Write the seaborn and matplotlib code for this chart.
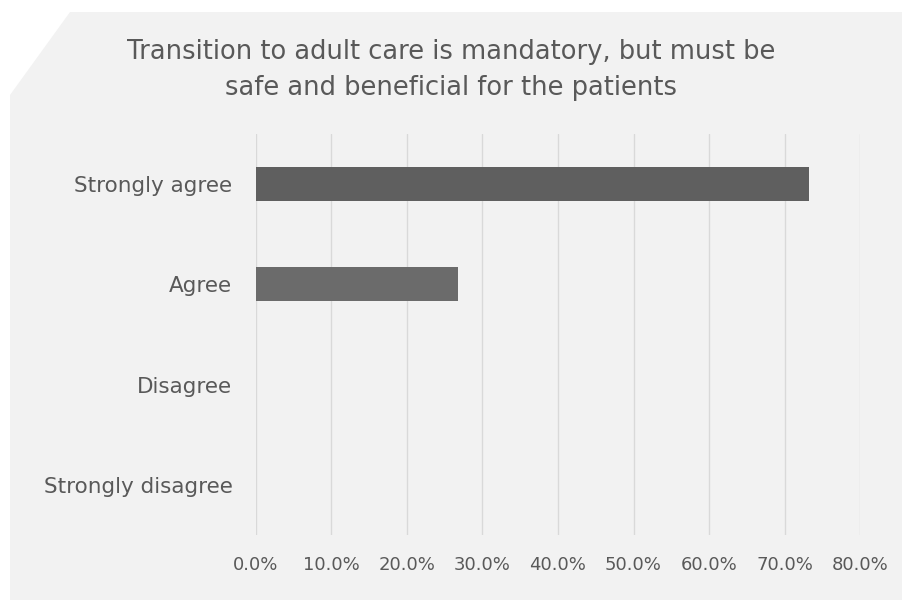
import matplotlib
matplotlib.use("Agg")
import matplotlib.pyplot as plt
from matplotlib.patches import Polygon
from matplotlib.ticker import FuncFormatter
import seaborn as sns
import pandas as pd

# data
answers = ["Strongly agree", "Agree", "Disagree", "Strongly disagree"]
shares = [0.733, 0.267, 0.0, 0.0]
bar_colors = ["#5f5f5f", "#6b6b6b", "#6b6b6b", "#6b6b6b"]
title = "Transition to adult care is mandatory, but must be\nsafe and beneficial for the patients"

df = pd.DataFrame({"answer": answers, "share": shares})

sns.set_theme(style="white")
plt.rcParams["font.family"] = ["DejaVu Sans"]

fig = plt.figure(figsize=(9.03, 6.03), dpi=100, facecolor="white")

# grey card behind the chart, top-left corner cut off
card = Polygon([(10/903, 1 - 95/603), (70/903, 1 - 12/603), (1.0, 1 - 12/603),
                (1.0, 1 - 600/603), (10/903, 1 - 600/603)],
               closed=True, transform=fig.transFigure, facecolor="#f2f2f2",
               edgecolor="none", zorder=-10)
fig.patches.append(card)

ax = fig.add_axes([256/903, 1 - 535/603, 604/903, 401/603])
ax.set_facecolor("none")

sns.barplot(data=df, x="share", y="answer", hue="answer", palette=bar_colors,
            width=0.34, legend=False, linewidth=0, ax=ax, zorder=3)

ax.set_xlim(0, 0.8)
ax.set_xticks([i / 10 for i in range(9)])
ax.xaxis.set_major_formatter(FuncFormatter(lambda v, p: f"{v*100:.1f}%"))
ax.grid(axis="x", color="#d9d9d9", linewidth=1, zorder=0)
ax.grid(axis="y", visible=False)
for s in ax.spines.values():
    s.set_visible(False)
ax.set_xlabel("")
ax.set_ylabel("")
ax.tick_params(axis="x", labelsize=13, colors="#595959", pad=15, length=0)
ax.tick_params(axis="y", labelsize=15.5, colors="#595959", pad=17, length=0)

fig.text(0.5, 1 - 70/603, title, ha="center", va="center", fontsize=18.5,
         color="#595959", linespacing=1.5)

fig.savefig("out.png", dpi=100, facecolor=fig.get_facecolor())
